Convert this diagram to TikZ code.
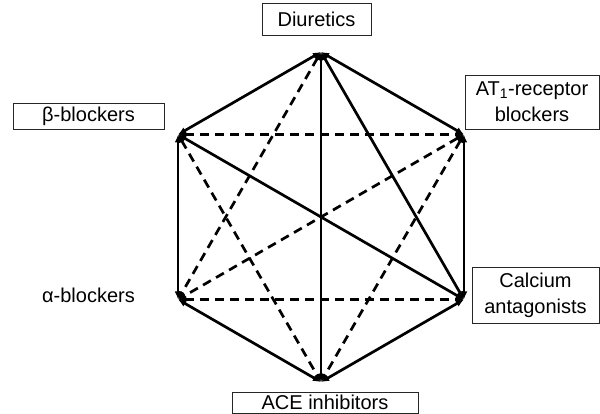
\documentclass[tikz,border=0pt]{standalone}
\usepackage{fontspec}
\setmainfont{Liberation Sans}
\usetikzlibrary{arrows.meta}

\begin{document}
\begin{tikzpicture}[x=1pt,y=1pt,
  solidline/.style={line width=2.7pt,{Latex[length=8pt,width=7pt]}-{Latex[length=8pt,width=7pt]}},
  dashline/.style={solidline,dash pattern=on 9pt off 6pt},
  drugbox/.style={draw=black!85,line width=0.8pt,align=center,inner sep=0pt,font=\fontsize{20}{26}\selectfont},
  druglabel/.style={inner sep=0pt,font=\fontsize{20}{26}\selectfont}]

\useasboundingbox (0,0) rectangle (600,414);

% corners of the hexagon
  \coordinate (diu) at (321,362);
  \coordinate (at)  at (463.9,279.5);
  \coordinate (ca)  at (463.9,114.5);
  \coordinate (acei) at (321,32);
  \coordinate (alb) at (178.1,114.5);
  \coordinate (beb) at (178.1,279.5);

% dashed combinations
  \draw[dashline] (diu) -- (alb);
  \draw[dashline] (beb) -- (at);
  \draw[dashline] (beb) -- (acei);
  \draw[dashline] (at) -- (alb);
  \draw[dashline] (at) -- (acei);
  \draw[dashline] (alb) -- (ca);

% solid combinations
  \draw[solidline] (diu) -- (ca);
  \draw[solidline] (diu) -- (acei);
  \draw[solidline] (beb) -- (ca);

% sides of the hexagon
  \draw[solidline] (diu) -- (at);
  \draw[solidline] (at) -- (ca);
  \draw[solidline] (ca) -- (acei);
  \draw[solidline] (acei) -- (alb);
  \draw[solidline] (alb) -- (beb);
  \draw[solidline] (beb) -- (diu);

% drug classes
  \node[drugbox, minimum width=109pt, minimum height=32pt] (diuretics) at (316.5,395) {Diuretics};
  \node[drugbox, minimum width=134pt, minimum height=54pt] (atone) at (532,312) {AT\textsubscript{1}-receptor\\blockers};
  \node[drugbox, minimum width=127pt, minimum height=56pt] (calcium) at (535.5,119) {Calcium\\antagonists};
  \node[drugbox, minimum width=186pt, minimum height=21.5pt] (ace) at (325,11.25) {ACE inhibitors};
  \node[drugbox, minimum width=151pt, minimum height=26pt] (beta) at (88.5,298) {β-blockers};
  \node[druglabel, anchor=base] (alpha) at (88.5,111) {α-blockers};

\end{tikzpicture}
\end{document}
